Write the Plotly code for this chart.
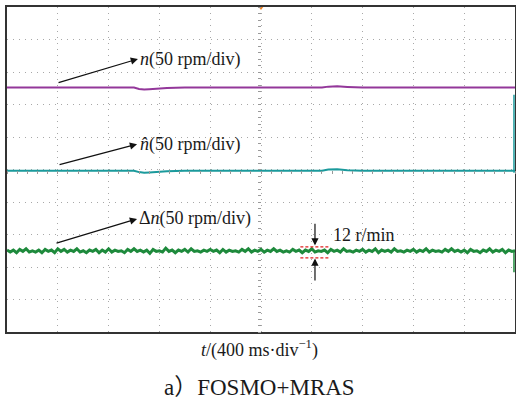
import plotly.graph_objects as go

# time samples (ms) and traces (rpm, with channel offsets baked into display)
n_t = [0, 400, 800, 1000, 1040, 1080, 1120, 1180, 1260, 1400, 1800, 2200, 2480, 2530, 2600, 2680, 2740, 2800, 3200, 3600, 4000]
n_v = [126, 126, 126.5, 126, 124, 123, 123.5, 124.5, 125.5, 126, 126, 126, 126, 127.5, 128, 127, 126.5, 126, 126, 126, 126]
nh_v = [-2, -2, -2, -2, -4, -5, -4.5, -3.5, -2.5, -2, -2, -2, -2, 0, 0.5, -1, -1.5, -2, -2, -2, -2]

dn_offset = -125
dn_v = [
    1, -2, 1, -3, 2, -1, 3, -2, 0, -2, 1, -3, 2, -1, 1, -3, 3, -1, 2, -2,
    1, -1, 3, -2, 0, -3, 1, -1, 2, -3, 1, -2, 3, -2, 1, -1, 0, -3, 2, -1,
    3, -1, 1, -2, 1, -4, 2, -1, 0, -2, 4, -1, 1, -3, 1, -1, 2, -2, 3, -1,
    0, -2, 1, -1, 2, -1, 1, -3, 2, -2, 1, -1, 0, -2, 2, -1, 3, -2, 1, -1,
    2, -2, 1, -1, 3, -1, 1, -2, 0, -2, 2, -1, 1, -3, 1, -1, 3, -2, 0, -1,
    1, -3, 2, -1, 1, -2, 3, -1, 0, -2, 1, -1, 2, -2, 1, -1, 3, -3, 1, -1,
    1, -2, 3, -1, 0, -2, 1, -1, 2, -2, 1, -1, 3, -2, 1, -1, 0, -2, 2, -1,
    3, -1, 1, -2, 1, -3, 2, -1, 0, -3, 1, -1, 3, -2, 1, -1, 2, -3, 1, -1, 0,
]
dn_t = [i * 4000 / (len(dn_v) - 1) for i in range(len(dn_v))]
dn_y = [dn_offset + v for v in dn_v]

SERIF = "Liberation Serif, Times New Roman, serif"

fig = go.Figure()
fig.add_trace(go.Scatter(x=n_t, y=n_v, mode="lines", line=dict(color="#93379A", width=2), hoverinfo="skip"))
fig.add_trace(go.Scatter(x=n_t, y=nh_v, mode="lines", line=dict(color="#1B9A9C", width=2), hoverinfo="skip"))
fig.add_trace(go.Scatter(x=dn_t, y=dn_y, mode="lines", line=dict(color="#1E8A3C", width=3), hoverinfo="skip"))
# trigger marker
fig.add_trace(go.Scatter(x=[2000], y=[250], mode="markers", marker=dict(symbol="triangle-down", size=6, color="#F08424"),
                         cliponaxis=False, hoverinfo="skip"))
# center axes holder
fig.add_trace(go.Scatter(x=[None], y=[None], xaxis="x2", yaxis="y2", showlegend=False))

grid = dict(showgrid=True, gridcolor="#A8A8A8", griddash="1px,5px", gridwidth=1,
            zeroline=False, showline=True, mirror=True, linecolor="#333333", linewidth=2,
            showticklabels=False, ticks="", fixedrange=True, automargin=False)
fig.update_layout(
    width=516, height=403,
    margin=dict(l=7, r=1, t=7, b=71, autoexpand=False),
    paper_bgcolor="white", plot_bgcolor="white",
    showlegend=False,
    xaxis=dict(range=[0, 4000], dtick=400, tick0=0, **grid),
    yaxis=dict(range=[-250, 250], dtick=50, tick0=0, **grid),
    xaxis2=dict(range=[0, 4000], overlaying="x", anchor="free", position=0.5, showgrid=False, zeroline=False,
                showline=False, ticks="outside", ticklen=3, tickcolor="#999999", dtick=80, tick0=0,
                showticklabels=False, automargin=False, fixedrange=True),
    yaxis2=dict(range=[-250, 250], overlaying="y", anchor="free", position=0.5, showgrid=False, zeroline=False,
                showline=False, ticks="outside", ticklen=3, tickcolor="#999999", dtick=10, tick0=0,
                showticklabels=False, automargin=False, fixedrange=True),
    font=dict(family=SERIF, color="#1a1a1a"),
)

def arrow(xh, yh, xt, yt):
    fig.add_annotation(x=xh, y=yh, ax=xt, ay=yt, xref="x", yref="y", axref="x", ayref="y",
                       text="", showarrow=True, arrowhead=2, arrowsize=1.2, arrowwidth=1.2, arrowcolor="#111111")

def label(x, y, txt, size=18):
    fig.add_annotation(x=x, y=y, xref="x", yref="y", text=txt, showarrow=False, xanchor="left", yanchor="middle",
                       font=dict(family=SERIF, size=size, color="#1a1a1a"))

# n
arrow(1031, 170, 394, 133)
label(1035, 170, "<i>n</i>(50 rpm/div)")
# n hat
arrow(1024, 39, 402, 7)
label(1035, 39, "<i>n̂</i>(50 rpm/div)")
# delta n
arrow(1024, -76, 378, -114)
label(1020, -76, "Δ<i>n</i>(50 rpm/div)")

# 12 r/min
label(2550, -100, "12 r/min")
arrow(2425, -117, 2425, -81)
arrow(2425, -137, 2425, -173)
for yy in (-119, -136):
    fig.add_shape(type="line", xref="x", yref="y", x0=2310, x1=2535, y0=yy, y1=yy,
                  line=dict(color="#E02020", width=1.3, dash="3px,2px"))

# right-edge channel markers
fig.add_shape(type="line", xref="paper", yref="y", x0=0.998, x1=0.998, y0=-5, y1=115,
              line=dict(color="#1B9A9C", width=1.5))
fig.add_shape(type="line", xref="paper", yref="y", x0=0.998, x1=0.998, y0=-158, y1=-124,
              line=dict(color="#1E8A3C", width=1.5))

# axis label and caption
fig.add_annotation(x=0.497, y=-0.052, xref="paper", yref="paper", yanchor="middle",
                   text="<i>t</i>/(400 ms·div<sup>−1</sup>)", showarrow=False,
                   font=dict(family=SERIF, size=18, color="#1a1a1a"))
fig.add_annotation(x=0.497, y=-0.172, xref="paper", yref="paper", yanchor="middle",
                   text="a）FOSMO+MRAS", showarrow=False,
                   font=dict(family="Liberation Serif, Noto Sans CJK SC, serif", size=23, color="#1a1a1a"))

fig.write_html("out.html", config={"displayModeBar": False}, post_script="document.body.style.margin='0';")
